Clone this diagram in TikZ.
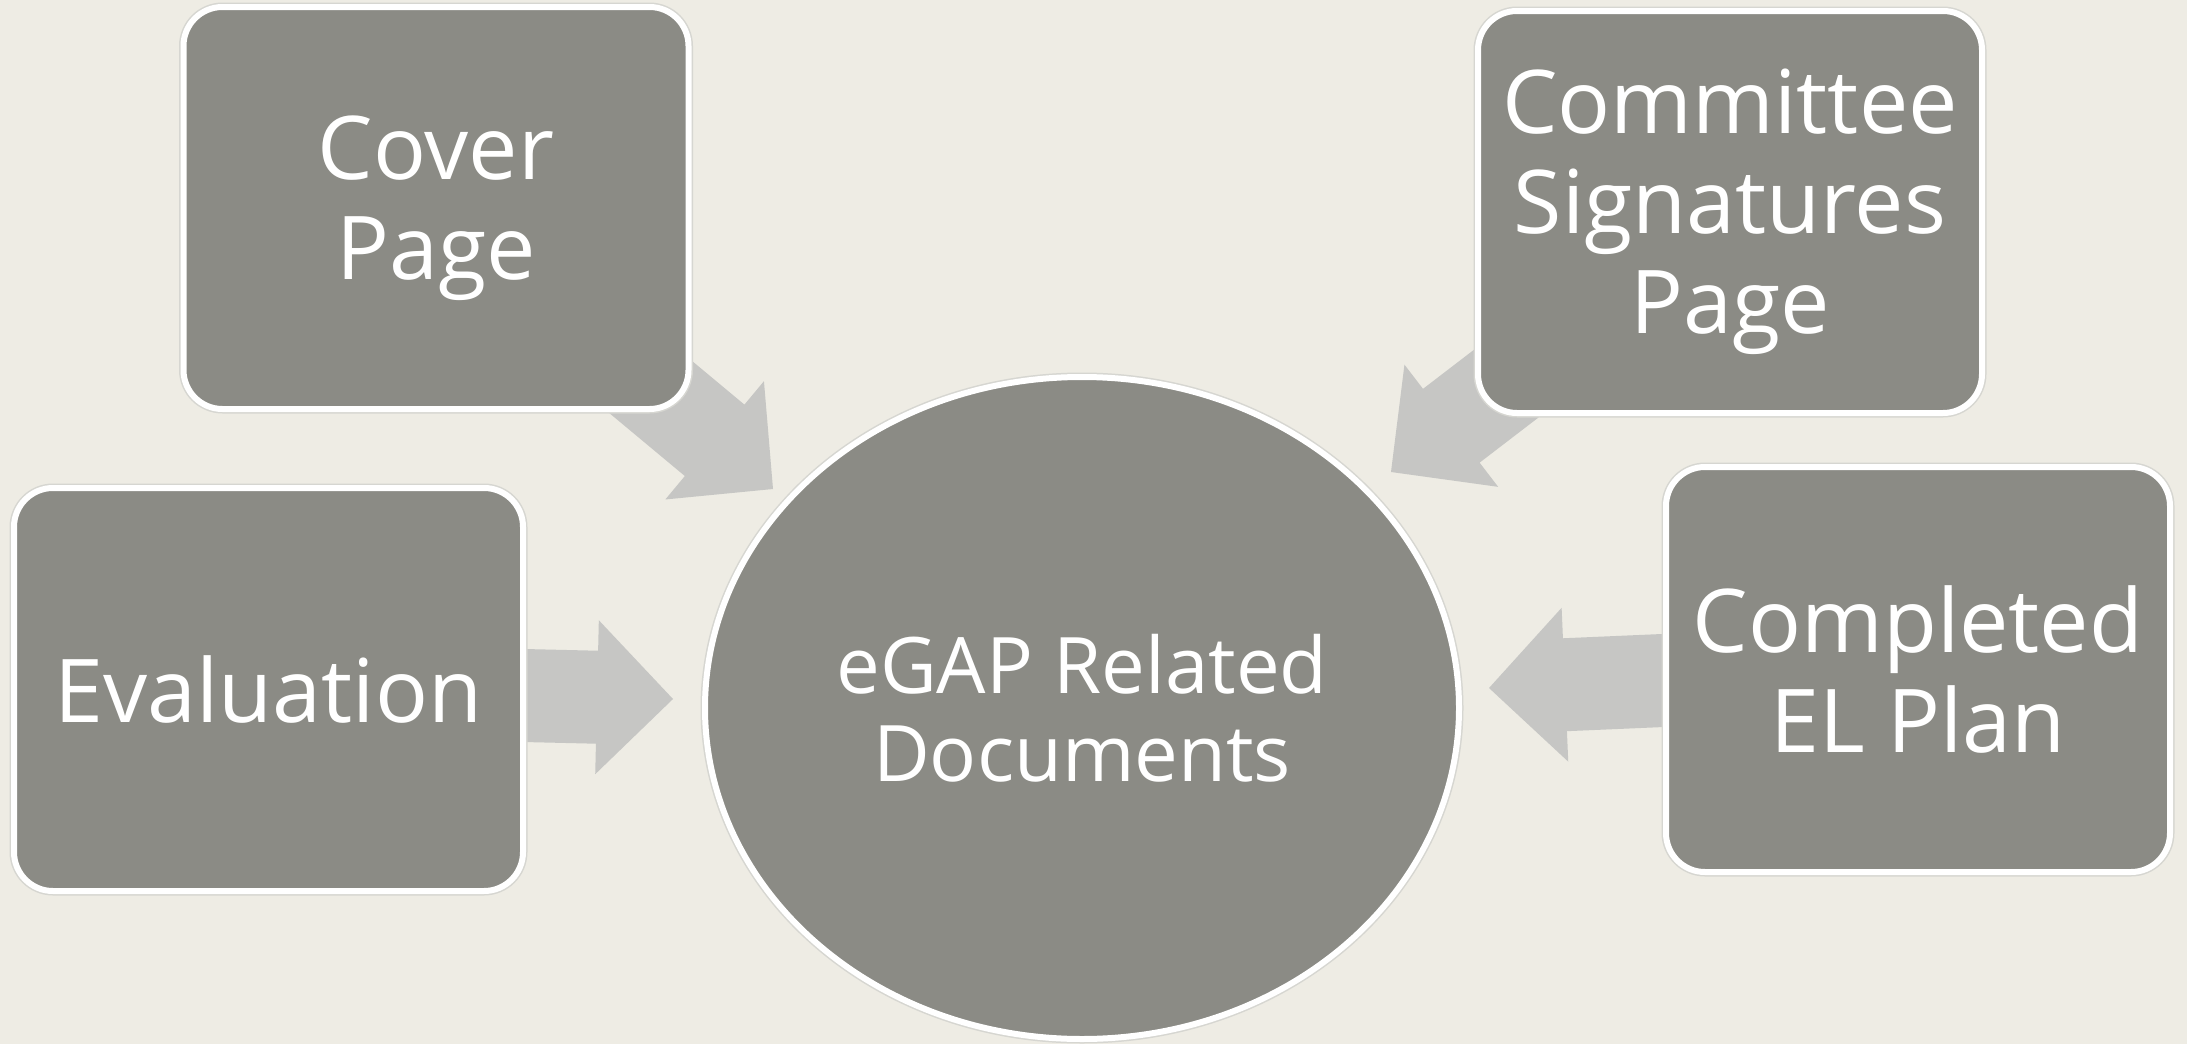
\documentclass[tikz,border=0pt]{standalone}
\usepackage{fontspec}
\setmainfont{Open Sans}
\usepackage{tikz}
\usetikzlibrary{calc, shapes.geometric}
\definecolor{canvas}{RGB}{238,236,228}
\definecolor{boxgray}{RGB}{139,139,133}
\definecolor{arrowgray}{RGB}{198,198,196}
\definecolor{rimgray}{RGB}{214,214,209}
\pgfdeclarelayer{back}
\pgfdeclarelayer{arrowlayer}
\pgfsetlayers{back,arrowlayer,main}

% block arrow from #1 (hidden tail) to #2 (tip)
\newcommand\blockarrow[2]{%
  \coordinate (n) at ($(#2)!76pt!(#1)$);
  \fill[arrowgray] ($(#1)!46.5pt!90:(#2)$) -- ($(n)!46.5pt!90:(#2)$)
    -- ($(n)!77pt!90:(#2)$) -- (#2) -- ($(n)!77pt!-90:(#2)$)
    -- ($(n)!46.5pt!-90:(#2)$) -- ($(#1)!46.5pt!-90:(#2)$) -- cycle;
}

\begin{document}
\begin{tikzpicture}[x=1pt, y=-1pt,
    box/.style={rounded corners=39pt, fill=boxgray, draw=white, line width=6pt,
      preaction={draw=rimgray, line width=9pt}, text=white, align=center,
      inner sep=0pt, font=\fontsize{88}{100}\selectfont},
    hub/.style={ellipse, fill=boxgray, draw=white, line width=6pt,
      preaction={draw=rimgray, line width=9pt}, text=white, align=center,
      inner sep=0pt, minimum width=754pt, minimum height=662pt,
      font=\fontsize{78}{88}\selectfont}]
    \useasboundingbox (0,0) rectangle (2187,1044);
    % background
    \begin{pgfonlayer}{back}
        \fill[canvas] (0,0) rectangle (2187,1044);
    \end{pgfonlayer}

    % centre
    \node[hub] (docs) at (1082,708) {eGAP Related\\Documents};

    % boxes
    \node[box, minimum width=505pt, minimum height=402pt] (cover) at (436,208) {Cover\\Page};
    \node[box, minimum width=504pt, minimum height=402pt] (sign) at (1730,212) {Committee\\Signatures\\Page};
    \node[box, minimum width=509pt, minimum height=403pt] (eval) at (268.5,689.5) {Evaluation};
    \node[box, minimum width=504pt, minimum height=405pt] (plan) at (1918,669.5) {Completed\\EL Plan};

    % arrow tips
    \coordinate (t1) at (773,489);
    \coordinate (t2) at (673,699);
    \coordinate (t3) at (1391,472);
    \coordinate (t4) at (1489,688);

    % arrows
    \begin{pgfonlayer}{arrowlayer}
        \foreach \from/\tip in {cover/t1, eval/t2, sign/t3, plan/t4}
            \blockarrow{\from}{\tip};
    \end{pgfonlayer}
\end{tikzpicture}
\end{document}
